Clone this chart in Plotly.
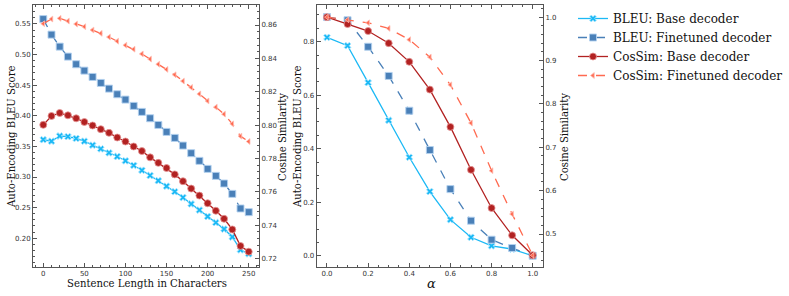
import plotly.graph_objects as go

# ---------------- data ----------------
lengths = list(range(0, 251, 10))
bleu_base_len = [0.361, 0.3585, 0.367, 0.366, 0.363, 0.3585, 0.352, 0.346, 0.3395, 0.3335,
                 0.3265, 0.319, 0.311, 0.3025, 0.294, 0.285, 0.276, 0.2665, 0.256, 0.246,
                 0.2355, 0.2255, 0.215, 0.202, 0.181, 0.1745]
bleu_ft_len = [0.558, 0.5326, 0.513, 0.4967, 0.4842, 0.4738, 0.4635, 0.4537, 0.4444, 0.4352,
               0.4265, 0.4162, 0.4064, 0.396, 0.3851, 0.3737, 0.3639, 0.3514, 0.3389, 0.3264,
               0.3133, 0.3019, 0.2894, 0.2725, 0.2486, 0.2426]
cos_base_len = [0.8002, 0.8055, 0.8073, 0.8059, 0.8041, 0.8019, 0.7998, 0.7976, 0.7954, 0.7926,
                0.7902, 0.7872, 0.7845, 0.7807, 0.7774, 0.7743, 0.7705, 0.7664, 0.762, 0.7578,
                0.7532, 0.7487, 0.7439, 0.7375, 0.7276, 0.7242]
cos_ft_len = [0.8608, 0.8636, 0.864, 0.8624, 0.8606, 0.859, 0.857, 0.855, 0.8528, 0.8503,
              0.8479, 0.8455, 0.8427, 0.8396, 0.8365, 0.8334, 0.8302, 0.8264, 0.8226, 0.8187,
              0.8145, 0.8108, 0.8066, 0.8008, 0.7934, 0.7902]

alphas = [0.0, 0.1, 0.2, 0.3, 0.4, 0.5, 0.6, 0.7, 0.8, 0.9, 1.0]
bleu_base_a = [0.816, 0.785, 0.647, 0.506, 0.368, 0.24, 0.135, 0.069, 0.037, 0.025, 0.0]
bleu_ft_a = [0.892, 0.88, 0.781, 0.672, 0.542, 0.395, 0.249, 0.131, 0.06, 0.029, 0.0]
cos_base_a = [1.0, 0.984, 0.968, 0.94, 0.897, 0.833, 0.747, 0.648, 0.56, 0.497, 0.451]
cos_ft_a = [1.0, 0.994, 0.987, 0.974, 0.948, 0.908, 0.844, 0.756, 0.646, 0.546, 0.451]

names = ["BLEU: Base decoder", "BLEU: Finetuned decoder",
         "CosSim: Base decoder", "CosSim: Finetuned decoder"]

# ---------------- styles ----------------
C_CYAN = "#1cb9f5"
C_STEEL = "#4a80b8"
C_RED = "#b22222"
C_SALMON = "#ff6a50"

SERIF = "DejaVu Serif"
SANS = "DejaVu Sans"

styles = [
    dict(color=C_CYAN, symbol="x", size=6, edge="rgba(170,230,255,0.9)", dash="solid"),
    dict(color=C_STEEL, symbol="square", size=7, edge="rgba(180,210,240,0.9)", dash="dash"),
    dict(color=C_RED, symbol="circle", size=7, edge="rgba(230,150,150,0.8)", dash="solid"),
    dict(color=C_SALMON, symbol="triangle-left", size=5, edge="rgba(255,190,180,0.8)", dash="dash"),
]

fig = go.Figure()

def add(xs, ys, i, xa, ya, show):
    s = styles[i]
    fig.add_trace(go.Scatter(
        x=xs, y=ys, name=names[i], mode="lines+markers",
        xaxis=xa, yaxis=ya, showlegend=show,
        line=dict(color=s["color"], width=1.3, dash=s["dash"]),
        marker=dict(symbol=s["symbol"], size=s["size"], color=s["color"],
                    line=dict(color=s["edge"], width=1)),
    ))

# left panel
add(lengths, bleu_base_len, 0, "x", "y", False)
add(lengths, bleu_ft_len, 1, "x", "y", False)
add(lengths, cos_base_len, 2, "x", "y2", False)
add(lengths, cos_ft_len, 3, "x", "y2", False)
# right panel
add(alphas, bleu_base_a, 0, "x2", "y3", True)
add(alphas, bleu_ft_a, 1, "x2", "y3", True)
add(alphas, cos_base_a, 2, "x2", "y4", True)
add(alphas, cos_ft_a, 3, "x2", "y4", True)

W, H = 789, 296
ydom = [(H - 267) / H, (H - 5) / H]
xdom1 = [33 / W, 259 / W]
xdom2 = [316.7 / W, 543 / W]

AX = "#555555"
tickfont = dict(family=SANS, size=7, color="#333333")

def axis_common(dtick, minor_dtick, rng, fmt, tick0=0):
    return dict(
        range=rng, showgrid=False, zeroline=False,
        showline=True, linecolor=AX, linewidth=1,
        ticks="inside", ticklen=4, tickwidth=0.8, tickcolor=AX,
        tick0=tick0, dtick=dtick, tickfont=tickfont, tickformat=fmt,
        minor=dict(ticks="inside", ticklen=2, tickwidth=0.6, tickcolor=AX,
                   dtick=minor_dtick, tick0=tick0, showgrid=False),
    )

fig.update_layout(
    width=W, height=H,
    margin=dict(l=0, r=0, t=0, b=0),
    paper_bgcolor="white", plot_bgcolor="white",
    showlegend=True,
    legend=dict(x=573 / W, y=1 - 4 / H, xanchor="left", yanchor="top",
                font=dict(family=SERIF, size=12, color="#111111"),
                bgcolor="rgba(0,0,0,0)", tracegroupgap=0, itemwidth=30),
    xaxis=dict(domain=xdom1, anchor="y", mirror="ticks",
               **axis_common(50, 10, [-12.5, 262.5], "d")),
    yaxis=dict(domain=ydom, anchor="x",
               **axis_common(0.05, 0.01, [0.153, 0.581], ".2f")),
    yaxis2=dict(overlaying="y", side="right", anchor="x",
                **axis_common(0.02, 0.004, [0.715, 0.872], ".2f")),
    xaxis2=dict(domain=xdom2, anchor="y3", mirror="ticks",
                **axis_common(0.2, 0.05, [-0.05, 1.05], ".1f")),
    yaxis3=dict(domain=ydom, anchor="x2",
                **axis_common(0.2, 0.05, [-0.042, 0.937], ".1f")),
    yaxis4=dict(overlaying="y3", side="right", anchor="x2",
                **axis_common(0.1, 0.02, [0.424, 1.028], ".1f")),
)

title_font = dict(family=SERIF, size=10.1, color="#111111")
def ann(text, x, y, angle=0, font=title_font):
    fig.add_annotation(text=text, x=x / W, y=1 - y / H, xref="paper", yref="paper",
                       showarrow=False, textangle=angle, font=font,
                       xanchor="center", yanchor="middle")

ann("Auto-Encoding BLEU Score", 11, 137, -90)
ann("Sentence Length in Characters", 147, 283)
ann("Cosine Similarity", 282, 137, -90)
ann("Auto-Encoding BLEU Score", 297, 137, -90)
ann("<i>α</i>", 431, 283, 0, dict(family=SERIF, size=13, color="#111111"))
ann("Cosine Similarity", 564, 137, -90)

fig.write_html("out.html", config={"displayModeBar": False},
               post_script="document.body.style.margin='0';")
